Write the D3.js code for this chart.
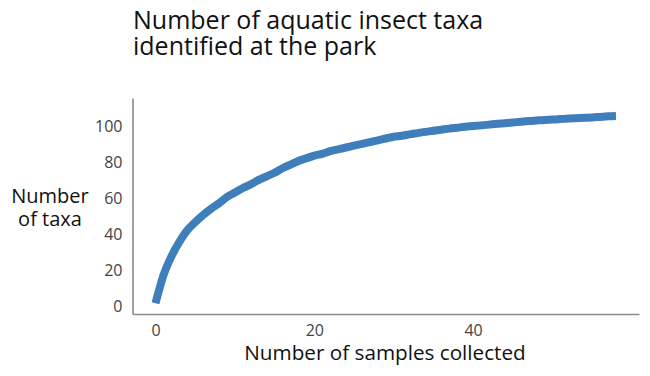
<!DOCTYPE html>
<html>
<head>
<meta charset="utf-8">
<script src="https://cdn.jsdelivr.net/npm/d3@7"></script>
<style>
  body { margin: 0; background: #fff; }
  svg { display: block; font-family: "Open Sans", "Noto Sans", sans-serif; }
</style>
</head>
<body>
<div id="chart"></div>
<script>
// samples collected (x) and cumulative taxa found (y)
const samples = d3.range(0, 59);
const taxa = [
  2, 17.5, 28, 36, 42.5, 47, 51, 54.5, 57.5, 61,
  63.5, 66, 68, 70.5, 72.5, 74.5, 77, 79, 81, 82.5,
  84, 85, 86.5, 87.5, 88.5, 89.5, 90.5, 91.5, 92.5, 93.5,
  94.5, 95, 95.8, 96.5, 97.2, 97.8, 98.4, 99, 99.5, 100,
  100.4, 100.8, 101.2, 101.7, 102, 102.4, 102.8, 103.2, 103.5, 103.8,
  104, 104.3, 104.6, 104.8, 105, 105.2, 105.5, 105.8, 106
];
const xTicks = [0, 20, 40];
const yTicks = [0, 20, 40, 60, 80, 100];

const data = samples.map((s, i) => ({ s, t: taxa[i] }));

const width = 650, height = 376;
const svg = d3.select("#chart").append("svg")
  .attr("width", width)
  .attr("height", height);

const x = d3.scaleLinear().domain([-2.9, 60.9]).range([132.5, 639]);
const y = d3.scaleLinear().domain([-4, 116]).range([314, 98]);

// title
const title = svg.append("text")
  .attr("x", 133)
  .attr("y", 29)
  .attr("font-size", 25)
  .attr("fill", "#111");
title.append("tspan").attr("x", 133).text("Number of aquatic insect taxa");
title.append("tspan").attr("x", 133).attr("dy", 26).text("identified at the park");

// axes
const xAxis = d3.axisBottom(x).tickValues(xTicks).tickSize(0).tickPadding(11);
const yAxis = d3.axisLeft(y).tickValues(yTicks).tickSize(0).tickPadding(10);

const gx = svg.append("g").attr("transform", `translate(0,${y.range()[0]})`).call(xAxis);
const gy = svg.append("g").attr("transform", `translate(${x.range()[0]},0)`).call(yAxis);

[gx, gy].forEach(g => {
  g.attr("font-size", 16).attr("font-family", null);
  g.select(".domain").attr("stroke", "#8a8a8a").attr("stroke-width", 1.6);
  g.selectAll("text").attr("fill", "#444");
});

// axis titles
svg.append("text")
  .attr("x", 385)
  .attr("y", 360)
  .attr("text-anchor", "middle")
  .attr("font-size", 20.7)
  .attr("fill", "#111")
  .text("Number of samples collected");

const yTitle = svg.append("text")
  .attr("text-anchor", "middle")
  .attr("font-size", 20)
  .attr("fill", "#111");
yTitle.append("tspan").attr("x", 50).attr("y", 203).text("Number");
yTitle.append("tspan").attr("x", 50).attr("y", 226).text("of taxa");

// accumulation curve
const line = d3.line()
  .x(d => x(d.s))
  .y(d => y(d.t))
  .curve(d3.curveMonotoneX);

svg.append("path")
  .datum(data)
  .attr("fill", "none")
  .attr("stroke", "#3d7ebb")
  .attr("stroke-width", 8)
  .attr("stroke-linejoin", "round")
  .attr("d", line);
</script>
</body>
</html>
